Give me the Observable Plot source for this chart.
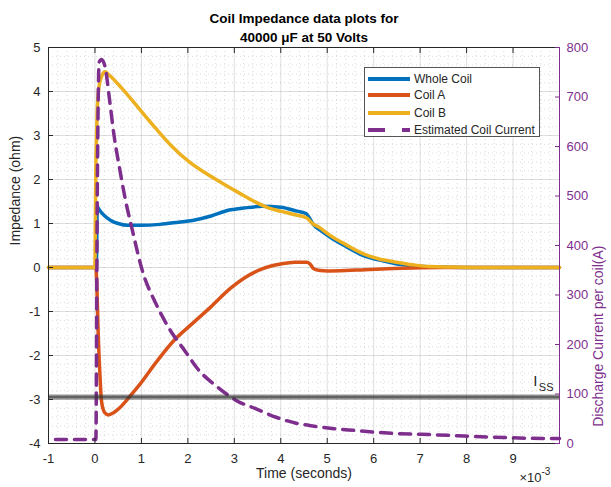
<!DOCTYPE html>
<html>
<head>
<meta charset="utf-8">
<script src="https://cdn.jsdelivr.net/npm/d3@7"></script>
<script src="https://cdn.jsdelivr.net/npm/@observablehq/plot@0.6"></script>
<style>
  html, body { margin: 0; padding: 0; background: #fff; }
  #wrap { position: relative; width: 611px; height: 487px; font-family: "Liberation Sans", Arial, Helvetica, sans-serif; }
  #legend { position: absolute; left: 364px; top: 67px; width: 176px; height: 70px; background: #fff; border: 1px solid #555; box-sizing: border-box; }
  .row { position: absolute; left: 3px; height: 16px; display: flex; align-items: center; font-size: 12px; color: #262626; white-space: nowrap; }
  .row svg { margin-right: 4px; }
</style>
</head>
<body>
<div id="wrap"><div id="chart"></div><div id="legend"></div></div>
<script>
// ---- data (time in ms, i.e. ×10^-3 s) ----
const wholeT = [-1, 0.03, 0.05, 0.1, 0.2, 0.34, 0.5, 0.7, 1.0, 1.4, 1.8, 2.1, 2.5, 2.87, 3.2, 3.6, 4.0, 4.35, 4.55, 4.62, 4.7, 4.85, 5.05, 5.4, 5.78, 6.2, 6.5, 7.0, 7.5, 8.0, 10];
const wholeV = [0, 0, 1.38, 1.3, 1.18, 1.07, 1.0, 0.96, 0.96, 0.98, 1.03, 1.07, 1.17, 1.3, 1.35, 1.39, 1.37, 1.28, 1.22, 1.12, 0.98, 0.85, 0.7, 0.48, 0.27, 0.15, 0.08, 0.03, 0.01, 0, 0];

const coilAT = [-1, 0.02, 0.04, 0.07, 0.11, 0.14, 0.21, 0.29, 0.4, 0.54, 0.75, 0.97, 1.32, 1.7, 2.1, 2.49, 2.92, 3.2, 3.6, 4.0, 4.3, 4.56, 4.63, 4.71, 4.85, 5.0, 5.4, 5.8, 6.3, 6.85, 7.5, 8.5, 10];
const coilAV = [0, 0, -0.38, -1.51, -2.5, -3.03, -3.3, -3.35, -3.3, -3.18, -2.93, -2.65, -2.15, -1.66, -1.27, -0.9, -0.47, -0.25, -0.03, 0.08, 0.12, 0.12, 0.08, -0.03, -0.07, -0.08, -0.07, -0.05, -0.03, -0.01, 0, 0, 0];

const coilBT = [-1, 0.0, 0.01, 0.02, 0.035, 0.05, 0.09, 0.15, 0.22, 0.3, 0.59, 0.95, 1.31, 1.67, 2.03, 2.39, 2.75, 3.11, 3.47, 3.75, 3.99, 4.3, 4.55, 4.62, 4.68, 4.8, 5.06, 5.4, 5.78, 6.1, 6.49, 6.85, 7.21, 7.7, 8.3, 10];
const coilBV = [0, 0, 1.2, 2.3, 3.0, 3.6, 4.13, 4.36, 4.45, 4.38, 4.06, 3.61, 3.16, 2.74, 2.4, 2.14, 1.91, 1.69, 1.48, 1.35, 1.28, 1.2, 1.13, 1.07, 1.0, 0.93, 0.73, 0.52, 0.31, 0.2, 0.12, 0.06, 0.02, 0.01, 0, 0];

const currentT = [-0.85, 0.0, 0.02, 0.05, 0.09, 0.14, 0.22, 0.32, 0.41, 0.53, 0.65, 0.79, 1.04, 1.3, 1.58, 1.96, 2.21, 2.64, 3.04, 3.47, 3.9, 4.33, 4.72, 5.15, 5.65, 6.0, 6.8, 7.2, 7.95, 8.8, 9.8, 10];
const currentA = [8, 8, 8, 500, 770, 776, 760, 690, 623, 556, 495, 437, 343, 285, 235, 184, 151, 114, 87, 70, 53, 41, 35, 30, 26, 23, 19, 18, 15, 12, 10, 10];

const issCurrent = 94;

const xTicks = [-1, 0, 1, 2, 3, 4, 5, 6, 7, 8, 9];
const yTicks = [-4, -3, -2, -1, 0, 1, 2, 3, 4, 5];
const currentTicks = [0, 100, 200, 300, 400, 500, 600, 700, 800];
const xDomain = [-1, 10];
const yDomain = [-4, 5];
const currentDomain = [0, 800];

const seriesNames = ["Whole Coil", "Coil A", "Coil B", "Estimated Coil Current"];
const colors = ["#0072BD", "#D95319", "#EDB120", "#7E2F8E"];

// map current (A) onto impedance axis
const toLeft = a => yDomain[0] + (a - currentDomain[0]) / (currentDomain[1] - currentDomain[0]) * (yDomain[1] - yDomain[0]);

const zip = (t, v) => t.map((d, i) => ({t: d, v: v[i]}));
const whole = zip(wholeT, wholeV);
const coilA = zip(coilAT, coilAV);
const coilB = zip(coilBT, coilBV);
const current = zip(currentT, currentA.map(toLeft));

const xMinor = d3.range(-1, 10.001, 0.2).map(v => +v.toFixed(2)).filter(v => Math.abs(v - Math.round(v)) > 1e-6);
const yMinor = d3.range(-4, 5.001, 0.2).map(v => +v.toFixed(2)).filter(v => Math.abs(v - Math.round(v)) > 1e-6);

const purple = colors[3];
const axisColor = "#262626";
const font = "'Liberation Sans', Arial, Helvetica, sans-serif";
const fmt = d => String(d);

const chart = Plot.plot({
  width: 611, height: 487,
  marginTop: 47, marginBottom: 44, marginLeft: 48, marginRight: 52,
  x: {domain: xDomain},
  y: {domain: yDomain},
  style: {fontFamily: font, fontSize: "13px", background: "white", color: axisColor},
  marks: [
    Plot.gridX(xMinor, {stroke: "#999", strokeOpacity: 0.35, strokeDasharray: "1,3"}),
    Plot.gridY(yMinor, {stroke: "#999", strokeOpacity: 0.35, strokeDasharray: "1,3"}),
    Plot.gridX(xTicks, {stroke: "#000", strokeOpacity: 0.13}),
    Plot.gridY(yTicks, {stroke: "#000", strokeOpacity: 0.13}),
    Plot.line(whole, {x: "t", y: "v", stroke: colors[0], strokeWidth: 3.5, curve: "monotone-x"}),
    Plot.line(coilA, {x: "t", y: "v", stroke: colors[1], strokeWidth: 3.5, curve: "monotone-x"}),
    Plot.line(coilB, {x: "t", y: "v", stroke: colors[2], strokeWidth: 3.5, curve: "monotone-x"}),
    Plot.line(current, {x: "t", y: "v", stroke: purple, strokeWidth: 3.5, strokeDasharray: "11,8", curve: "monotone-x"}),
    Plot.ruleY([toLeft(issCurrent)], {stroke: "#333", strokeWidth: 5, strokeOpacity: 0.55}),
    Plot.ruleY([toLeft(issCurrent)], {stroke: "#333", strokeWidth: 2, strokeOpacity: 0.5}),
    Plot.text([toLeft(issCurrent)], {y: d => d, frameAnchor: "right", text: () => "I", textAnchor: "end", dx: -22, dy: -16, fontSize: 15, fill: "#262626"}),
    Plot.text([toLeft(issCurrent)], {y: d => d, frameAnchor: "right", text: () => "SS", textAnchor: "end", dx: -6, dy: -10, fontSize: 11, fill: "#262626"}),
    Plot.frame({stroke: axisColor}),
    Plot.ruleX([xDomain[1]], {stroke: purple}),
    Plot.axisX(xTicks, {anchor: "bottom", tickSize: -5, tickPadding: 15, tickFormat: fmt, label: null, fontSize: 13, stroke: axisColor}),
    Plot.axisX(xTicks, {anchor: "top", tickSize: -5, tickFormat: () => "", label: null, stroke: axisColor}),
    Plot.axisY(yTicks, {anchor: "left", tickSize: -5, tickPadding: 13, tickFormat: fmt, label: null, fontSize: 13, stroke: axisColor}),
    Plot.axisY(currentTicks.map(toLeft), {anchor: "right", tickSize: -5, tickPadding: 12, label: null, fontSize: 13, stroke: purple, fill: purple,
      tickFormat: (d, i) => String(currentTicks[i])}),
    Plot.text(["Time (seconds)"], {frameAnchor: "bottom", dy: 34, fontSize: 14, fill: axisColor}),
    Plot.text(["×10"], {frameAnchor: "bottom-right", dx: -18, dy: 38, textAnchor: "end", fontSize: 13, fill: axisColor}),
    Plot.text(["-3"], {frameAnchor: "bottom-right", dx: -18, dy: 31, textAnchor: "start", fontSize: 10, fill: axisColor}),
    Plot.text(["Impedance (ohm)"], {frameAnchor: "left", rotate: -90, dx: -33, fontSize: 14, fill: axisColor}),
    Plot.text(["Discharge Current per coil(A)"], {frameAnchor: "right", rotate: -90, dx: 39, fontSize: 14, fill: purple}),
    Plot.text(["Coil Impedance data plots for\n40000 μF at 50 Volts"], {frameAnchor: "top", lineAnchor: "bottom", dy: -6, lineHeight: 1.35, fontSize: 13.5, fontWeight: "bold", fill: "#000"})
  ]
});
document.getElementById("chart").appendChild(chart);

// legend
const legend = document.getElementById("legend");
const rowCenters = [10.5, 27, 44.5, 62];
seriesNames.forEach((name, i) => {
  const row = document.createElement("div");
  row.className = "row";
  row.style.top = (rowCenters[i] - 8) + "px";
  const dash = i === 3 ? ' stroke-dasharray="17,17"' : '';
  row.innerHTML = `<svg width="42" height="8"><line x1="0" x2="42" y1="4" y2="4" stroke="${colors[i]}" stroke-width="4"${dash}/></svg><span>${name}</span>`;
  legend.appendChild(row);
});
</script>
</body>
</html>
